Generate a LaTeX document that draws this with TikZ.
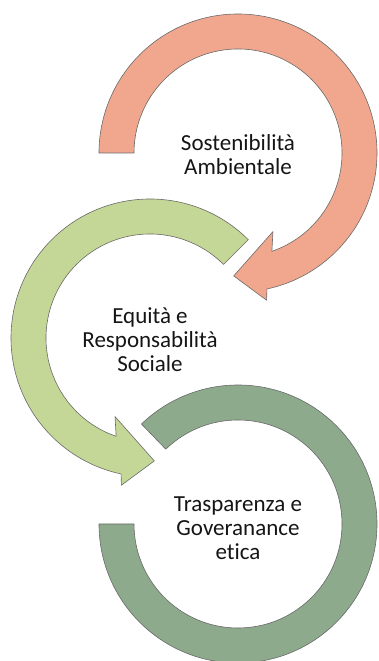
\documentclass[tikz,border=0pt]{standalone}
\usepackage{fontspec}
\setmainfont{Carlito}[Ligatures={NoCommon}]
\definecolor{salmon}{HTML}{F1A78E}
\definecolor{lgreen}{HTML}{C4D796}
\definecolor{dgreen}{HTML}{8EAA8C}
\definecolor{edge}{HTML}{6A6A6A}
\definecolor{txt}{HTML}{151515}
\begin{document}
\begin{tikzpicture}[x=1pt,y=1pt,
  band/.style={draw=edge, line width=0.6pt, line join=round},
  lbl/.style={align=center, text=txt, inner sep=0pt, font=\fontsize{23}{24}\selectfont}]
\useasboundingbox (0,0) rectangle (378,661);
\coordinate (c1) at (238,508);
\coordinate (c2) at (150,323);
\coordinate (c3) at (238,137);
% dark green ring (no head)
\begin{scope}[shift={(c3)}]
\fill[dgreen, band] (180:139pt) arc[start angle=180, end angle=494, radius=139pt]
  -- (494:104pt) arc[start angle=494, end angle=180, radius=104pt] -- cycle;
\end{scope}
% light green arrow
\begin{scope}[shift={(c2)}]
\fill[lgreen, band] (45:139pt) arc[start angle=45, end angle=258, radius=139pt]
  -- (259:150pt) -- (272:123pt) -- (246:86pt) -- (251:104pt)
  arc[start angle=251, end angle=45, radius=104pt] -- cycle;
\end{scope}
% salmon arrow
\begin{scope}[shift={(c1)}]
\fill[salmon, band] (180:139pt) arc[start angle=180, end angle=-78, radius=139pt]
  -- (-79:150pt) -- (-92:123pt) -- (-66:86pt) -- (-71:104pt)
  arc[start angle=-71, end angle=180, radius=104pt] -- cycle;
\end{scope}
\node[lbl] (t1) at ([yshift=-2pt]c1) {Sostenibilità\\Ambientale};
\node[lbl] (t2) at ([yshift=-2pt]c2) {Equità e\\Responsabilità\\Sociale};
\node[lbl] (t3) at ([yshift=-4pt]c3) {Trasparenza e\\Goveranance\\etica};
\end{tikzpicture}
\end{document}
